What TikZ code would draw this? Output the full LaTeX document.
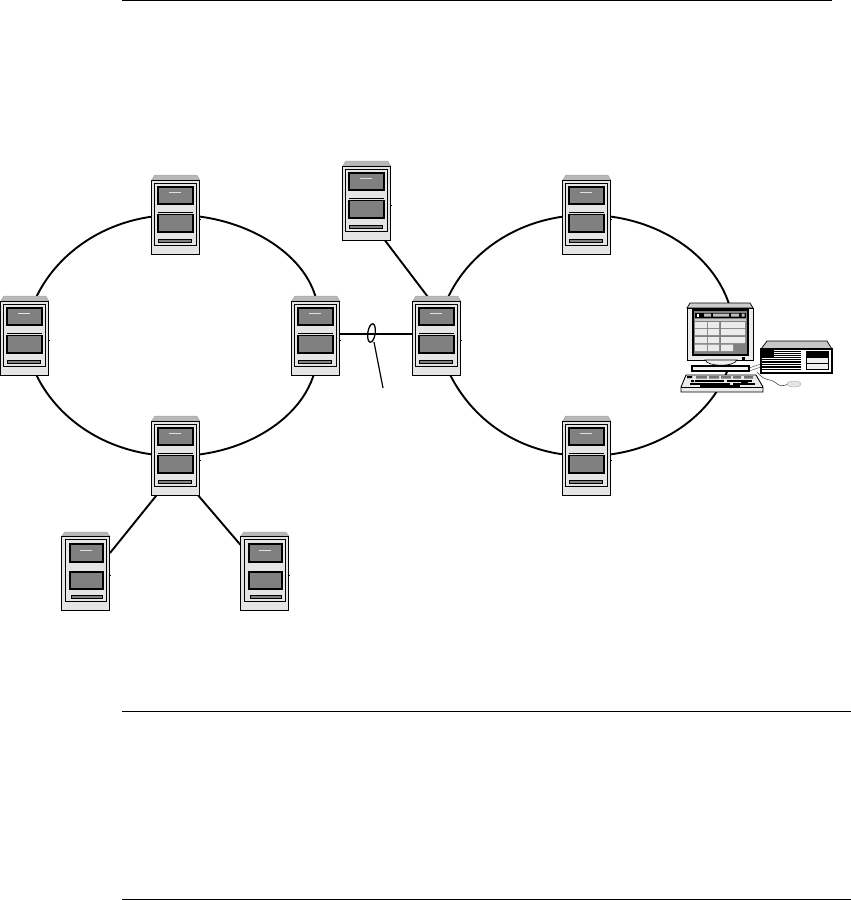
\documentclass[tikz,border=0pt]{standalone}
\begin{document}
\begin{tikzpicture}[x=1pt,y=-1pt,
  hub/.style={inner sep=0pt,minimum width=48pt,minimum height=78pt},
  ringline/.style={line width=1.9pt,black},
  linkline/.style={line width=1.9pt,black},
  rule/.style={line width=.9pt,black},
  srvbody/.style={fill=black!10,draw=black,line width=1pt},
  srvroof/.style={fill=black!28,draw=black!35,line width=.5pt},
  drawer/.style={fill=black!50,draw=black,line width=1.9pt},
  slotbar/.style={fill=black!50,draw=black,line width=.7pt},
  kbdkey/.style={line width=1.3pt,black},
  server/.pic={
    \path[srvroof] (-24,-35)--(-21,-40)--(21,-40)--(24,-35)--cycle;
    \path[srvbody] (-24,-35) rectangle (24,39);
    \draw[black,line width=.8pt] (-21.5,-32) rectangle (21,30);
    \path[drawer] (-18,-28) rectangle (17,-11);
    \draw[black!12,line width=1.8pt] (-7,-22.5)--(5,-22.5);
    \draw[black,line width=.8pt] (-18,-3)--(17,-3);
    \path[drawer] (-18,-.5) rectangle (17,17);
    \path[slotbar] (-17,24) rectangle (16,27);
    \fill[black] (23.5,3.5) rectangle (25,5);
  },
  serverb/.pic={
    \path[srvroof] (-24,-35)--(-21,-39)--(21,-39)--(24,-35)--cycle;
    \path[srvbody] (-24,-35) rectangle (24,39);
    \draw[black,line width=.8pt] (-20,-32) rectangle (21,30);
    \path[drawer] (-16,-27) rectangle (17,-9);
    \draw[black!12,line width=.9pt] (-6,-21)--(6,-21);
    \path[drawer] (-16,1) rectangle (17,18);
    \path[slotbar] (-14,24) rectangle (17,27);
    \fill[black] (23.5,3.5) rectangle (25,5);
  }]
\useasboundingbox (0,0) rectangle (851,900);
% anchors
\node[hub] (T)  at (175.8,215) {};
\node[hub] (L)  at (24.8,336)  {};
\node[hub] (R)  at (315.8,336) {};
\node[hub] (B)  at (175.8,456) {};
\node[hub] (BL) at (85.8,571)  {};
\node[hub] (BR) at (264.8,571) {};
\node[hub] (C)  at (366.8,201) {};
\node[hub] (M)  at (436.8,336) {};
\node[hub] (RT) at (586.8,215) {};
\node[hub] (RB) at (586.8,456) {};
\coordinate (PC) at (734,335);
\coordinate (ruleA1) at (122,.5);  \coordinate (ruleA2) at (832,.5);
\coordinate (ruleB1) at (122,711); \coordinate (ruleB2) at (851,711);
\coordinate (ruleC1) at (122,899); \coordinate (ruleC2) at (851,899);
\draw[rule] (ruleA1)--(ruleA2);
\draw[rule] (ruleB1)--(ruleB2);
\draw[rule] (ruleC1)--(ruleC2);
% rings
\draw[ringline] (L.center) .. controls +(8,-66) and +(-81,0) .. (T.center);
\draw[ringline] (T.center) .. controls +(81,0) and +(18,-66) .. (R.center);
\draw[ringline] (R.center) .. controls +(13,66) and +(81,0) .. (B.center);
\draw[ringline] (B.center) .. controls +(-81,0) and +(8,66) .. (L.center);
\draw[ringline] (M.center) .. controls +(8,-66) and +(-81,0) .. (RT.center);
\draw[ringline] (RT.center) .. controls +(81,0) and +(0,-66) .. (PC);
\draw[ringline] (PC) .. controls +(0,66) and +(81,0) .. (RB.center);
\draw[ringline] (RB.center) .. controls +(-81,0) and +(13,66) .. (M.center);
% links
\draw[linkline] ([xshift=5pt]B.south west)--([yshift=18pt]BL.east);
\draw[linkline] ([xshift=-2pt]B.south east)--([yshift=26pt]BR.west);
\draw[linkline] ([xshift=18pt]C.south)--([xshift=-9pt]M.north);
\draw[line width=2.8pt,black] ([yshift=2pt]R.center)--([yshift=2pt]M.center);
% bundle marker
\coordinate (loop) at (371.5,333);
\coordinate (tail) at (383,388);
\draw[line width=1.3pt,rotate around={-8:(loop)}] (loop) ellipse (3.7 and 9.3);
\draw[line width=1.2pt] (374,342)--(tail);
% servers
\foreach \n in {T,L,R,B,C,M,RT,RB} \path (\n.center) pic {server};
\foreach \n in {BL,BR} \path (\n.center) pic {serverb};
% ===== workstation =====
% cables
\draw[black!60,line width=.6pt] (749,368)--(761,364) (749,371)--(761,367);
\draw[black!70,line width=.6pt] (757,372) .. controls (765,382) and (770,378) .. (776,383) .. controls (780,387) and (784,386) .. (788,384);
% monitor
\path[fill=black!20,draw=black,line width=.7pt] (687,308)--(690,303)--(750,303)--(753,308)--cycle;
\path[fill=black!8,draw=black,line width=.9pt] (687,308) rectangle (753,360);
\path[fill=black!50,draw=black,line width=1.6pt] (693,310) rectangle (748,355);
\fill[black] (695,312.5) rectangle (746,317.5);
\fill[white] (696.5,313.5) rectangle (699,316.5);
\fill[black!25] (704,313.5) rectangle (711,316.5) (713,313.5) rectangle (729,316.5) (731,313.5) rectangle (739,316.5) (741.5,313.5) rectangle (744.5,316.5);
\fill[black!20] (695,318.5) rectangle (746,320.5);
\foreach \ya/\yb in {322/328,329/335,337/343}
  \fill[black!8] (695,\ya) rectangle (707,\yb) (708,\ya) rectangle (719,\yb) (721,\ya) rectangle (745,\yb);
\fill[black!8] (695,344.5) rectangle (707,351) (708,344.5) rectangle (719,351) (721,344.5) rectangle (733,351);
\fill[black] (742,356.5) rectangle (745,359.5);
% stand and base
\path[fill=black!6,draw=black,line width=.6pt] (705,360) .. controls (708,367) and (734,367) .. (737,360)--cycle;
\path[fill=black!4,draw=black,line width=1.1pt] (692,366) rectangle (749,371);
% keyboard
\path[fill=black!8,draw=black,line width=.9pt] (681,387)--(686,375)--(756,375)--(763,387)--(763,392)--(681,392)--cycle;
\draw[black,line width=.7pt] (681,387)--(763,387);
\fill[black!55] (696,376) rectangle (707,378.5) (709,376) rectangle (719,378.5) (721,376) rectangle (731,378.5) (733,376) rectangle (741,378.5) (744,376) rectangle (753,378.5);
\fill[black] (687,376) rectangle (692,378) (691,380) rectangle (694,382);
\draw[kbdkey] (695,381)--(724,381) (727,381)--(752,381);
\draw[kbdkey] (690,384)--(730,384) (733,384)--(755,384);
\draw[kbdkey] (700,386)--(740,386);
\fill[black] (741,381.5) rectangle (748,385);
% desktop box
\path[fill=black!22,draw=black,line width=.7pt] (761,349)--(767,341)--(827,341)--(832,349)--cycle;
\path[fill=white,draw=black,line width=1.1pt] (761,349) rectangle (832,373);
\fill[black] (762,350) rectangle (774,358);
\foreach \yy in {351,353,355,357}
  \draw[black,line width=.9pt] (774,\yy)--(801,\yy);
\foreach \yy in {359.5,362,364.5,367,369.5}
  \draw[black,line width=1.2pt] (762,\yy)--(801,\yy);
\path[fill=black!6,draw=black,line width=.9pt] (806,351) rectangle (828,369);
\fill[black] (806,351) rectangle (828,358);
\draw[black,line width=.9pt] (806,363.5)--(828,363.5);
% mouse
\path[fill=black!10,draw=black!35,line width=.4pt] (794,384) ellipse (7 and 3);
\end{tikzpicture}
\end{document}
